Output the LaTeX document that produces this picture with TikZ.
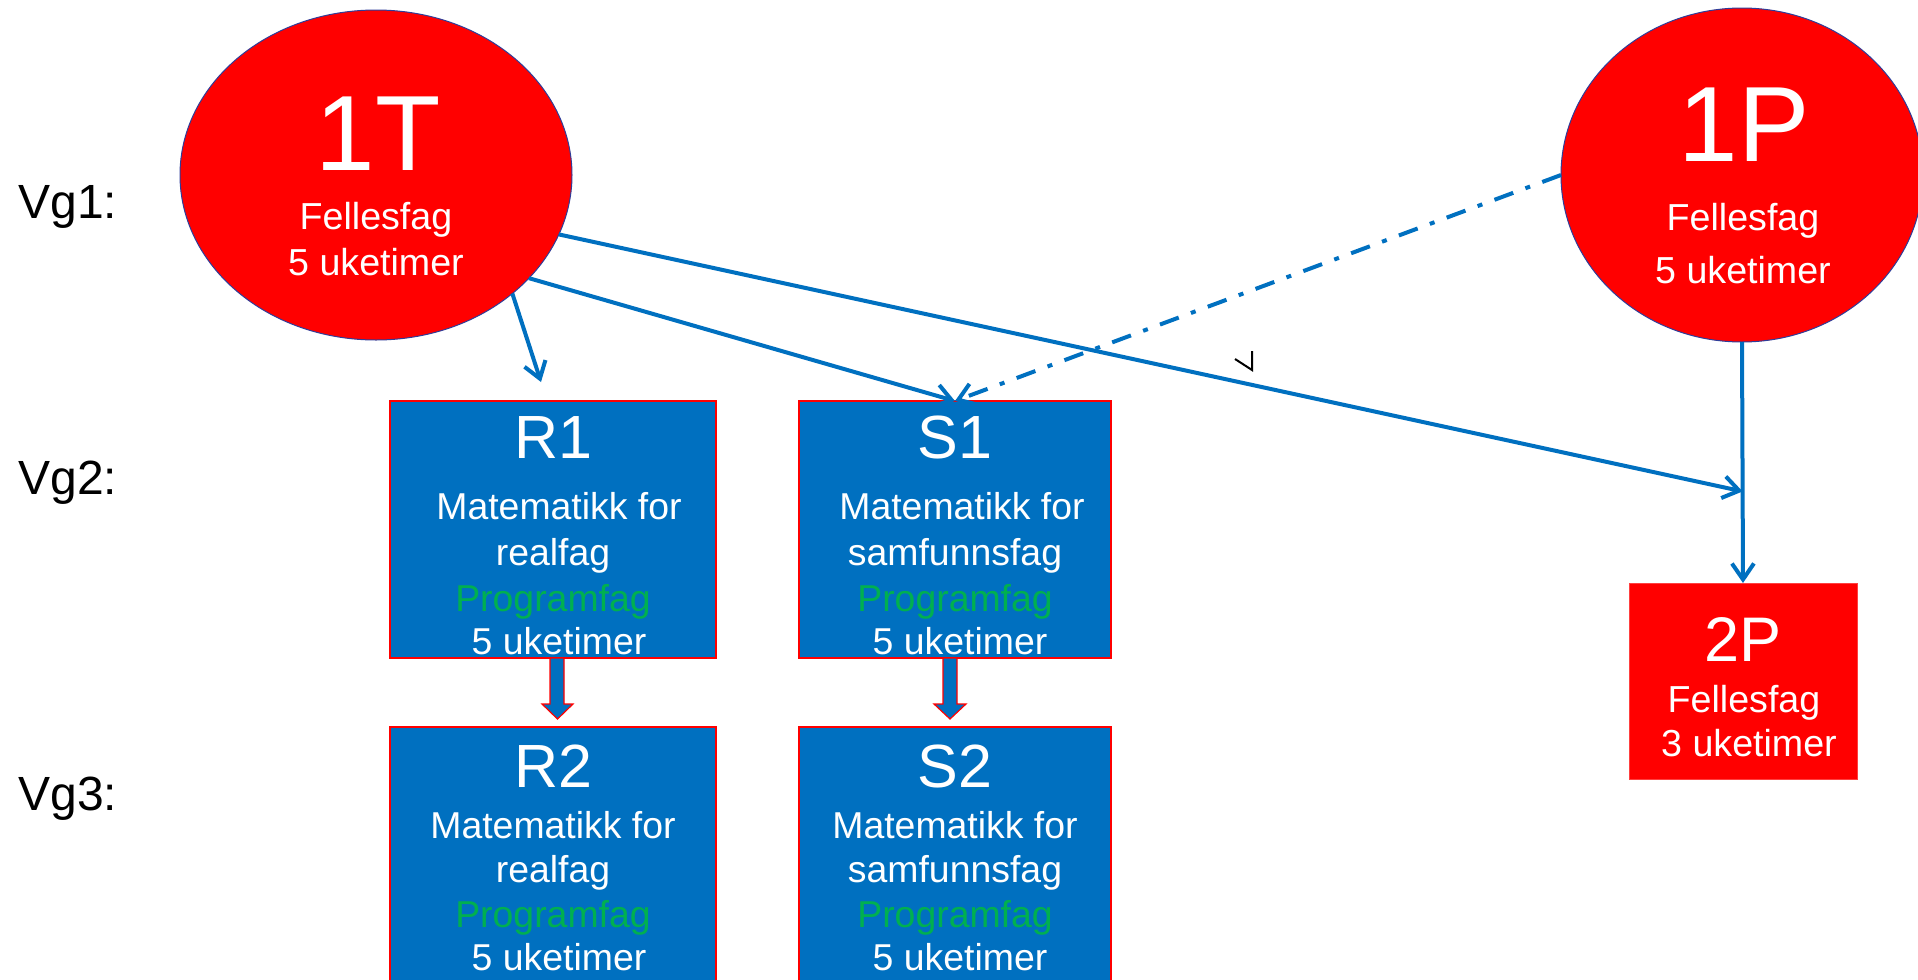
\documentclass[tikz,border=0pt]{standalone}
\usepackage{fontspec}
\setmainfont{Liberation Sans}
\usetikzlibrary{arrows.meta,shapes.geometric,calc}
\definecolor{ored}{HTML}{FF0000}
\definecolor{oblue}{HTML}{0070C0}
\definecolor{ogreen}{HTML}{00B050}
\definecolor{edgeblue}{HTML}{2F3D99}
\begin{document}
\begin{tikzpicture}[x=0.5pt,y=-0.5pt,
  ell/.style={ellipse, fill=ored, draw=edgeblue, line width=0.5pt, inner sep=0pt, outer sep=0pt},
  bluebox/.style={rectangle, fill=oblue, draw=ored, line width=0.6pt, inner sep=0pt, outer sep=0pt, minimum height=128.5pt},
  redbox/.style={rectangle, fill=ored, draw=ored!75!white, line width=0.5pt, inner sep=0pt, outer sep=0pt},
  wtxt/.style={text=white, anchor=base, inner sep=0pt},
  bigtxt/.style={wtxt, font=\fontsize{53.5}{54}\selectfont},
  titletxt/.style={wtxt, font=\fontsize{30.5}{31}\selectfont},
  smalltxt/.style={wtxt, font=\fontsize{18.8}{19}\selectfont},
  boxtxt/.style={wtxt, font=\fontsize{18.7}{19}\selectfont},
  greentxt/.style={boxtxt, text=ogreen},
  vgtxt/.style={anchor=base west, inner sep=0pt, font=\fontsize{24}{24}\selectfont},
  conn/.style={draw=oblue, line width=2pt, -{Straight Barb[length=8pt,width=11pt]}},
  dashdotline/.style={dash pattern=on 10pt off 6.5pt on 2.5pt off 6.5pt},
  blockarr/.style={fill=oblue, draw=ored, line width=0.6pt, line join=miter}
]
\useasboundingbox (0,0) rectangle (1918,980);
\clip (0,0) rectangle (1918,980);
\fill[white] (0,0) rectangle (1918,980);

% Row labels
\node[vgtxt] (vg1) at (18,218) {Vg1:};
\node[vgtxt] (vg2) at (18,494) {Vg2:};
\node[vgtxt] (vg3) at (18,810) {Vg3:};

% 1T
\node[ell, minimum width=196pt, minimum height=165pt] (t1) at (376,175) {};
\node[bigtxt] (t1a) at (378,170) {1T};
\node[smalltxt] (t1b) at (376,229) {Fellesfag};
\node[smalltxt] (t1c) at (376,275) {5 uketimer};

% 1P
\node[ell, minimum width=181pt, minimum height=167pt] (p1) at (1742,175) {};
\node[bigtxt] (p1a) at (1744,161.5) {1P};
\node[smalltxt] (p1b) at (1743,230) {Fellesfag};
\node[smalltxt] (p1c) at (1743,283) {5 uketimer};

% R1
\node[bluebox, minimum width=163pt] (r1) at (553,529.5) {};
\node[titletxt] (r1a) at (553,458) {R1};
\node[boxtxt] (r1b) at (559,519) {Matematikk for};
\node[boxtxt] (r1c) at (553,565) {realfag};
\node[greentxt] (r1d) at (553,611) {Programfag};
\node[boxtxt] (r1e) at (559,654) {5 uketimer};

% S1
\node[bluebox, minimum width=156pt] (s1) at (955,529.5) {};
\node[titletxt] (s1a) at (955,458) {S1};
\node[boxtxt] (s1b) at (962,519) {Matematikk for};
\node[boxtxt] (s1c) at (955,565) {samfunnsfag};
\node[greentxt] (s1d) at (955,611) {Programfag};
\node[boxtxt] (s1e) at (960,654) {5 uketimer};

% R2
\node[bluebox, minimum width=163pt] (r2) at (553,855.5) {};
\node[titletxt] (r2a) at (553,787) {R2};
\node[boxtxt] (r2b) at (553,838) {Matematikk for};
\node[boxtxt] (r2c) at (553,882) {realfag};
\node[greentxt] (r2d) at (553,927) {Programfag};
\node[boxtxt] (r2e) at (559,970) {5 uketimer};

% S2
\node[bluebox, minimum width=156pt] (s2) at (955,855.5) {};
\node[titletxt] (s2a) at (955,787) {S2};
\node[boxtxt] (s2b) at (955,838) {Matematikk for};
\node[boxtxt] (s2c) at (955,882) {samfunnsfag};
\node[greentxt] (s2d) at (955,927) {Programfag};
\node[boxtxt] (s2e) at (960,970) {5 uketimer};

% 2P
\node[redbox, minimum width=114pt, minimum height=98pt] (p2) at (1743,681) {};
\node[titletxt, font=\fontsize{31.5}{32}\selectfont] (p2a) at (1743,661) {2P};
\node[smalltxt] (p2b) at (1744,712) {Fellesfag};
\node[smalltxt] (p2c) at (1749,756) {3 uketimer};

% Connectors
\draw[conn] (t1.-41.4) -- ([xshift=-6pt,yshift=9.5pt]r1.north);
\draw[conn] (t1.-34.9) -- (s1.north);
\coordinate (j) at ($(p1.south)!0.62!(p2.north)$);
\draw[conn] (t1.-18.3) -- (j);
\draw[conn] (p1.south) -- (p2.north);
\draw[conn, dashdotline] (p1.west) -- (s1.north);

% Block arrows
\draw[blockarr] ($(r1.south)+(-3,0)$) -- ++(0,46) -- ++(-8,0) -- ++(15.5,15) -- ++(15.5,-15) -- ++(-9,0) -- ++(0,-46) -- cycle;
\draw[blockarr] ($(s1.south)+(-12,0)$) -- ++(0,46) -- ++(-9,0) -- ++(16,15) -- ++(16,-15) -- ++(-9,0) -- ++(0,-46) -- cycle;

% small mark
\draw[black, line width=1pt] (1235,359) -- (1252,370) -- (1252,351);
\end{tikzpicture}
\end{document}
